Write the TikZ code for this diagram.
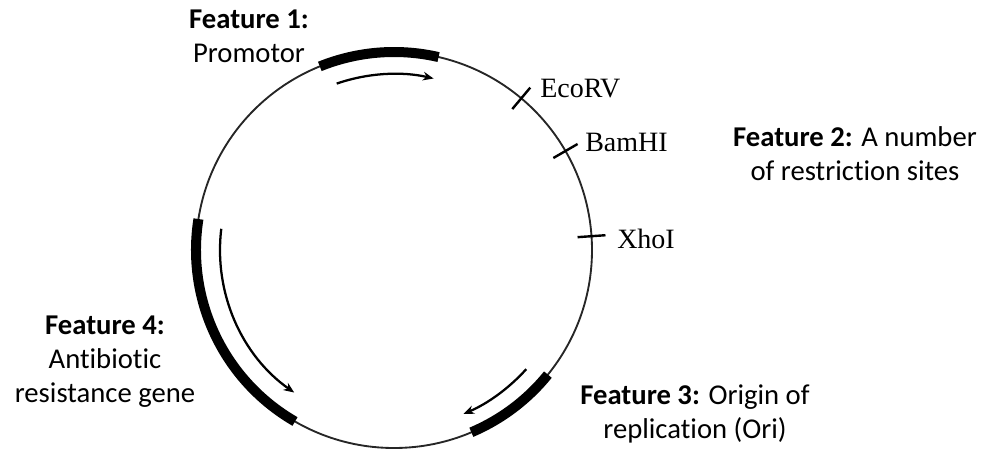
\documentclass[tikz,border=0pt]{standalone}
\usepackage{fontspec}
\setmainfont{Carlito}[Ligatures=NoCommon]
\newfontfamily\sitefont{Liberation Serif}
\usetikzlibrary{arrows.meta}

\begin{document}
\begin{tikzpicture}[
    x=0.75pt, y=0.75pt,
    backbone/.style={draw=black!85, line width=1.4pt},
    feature/.style={draw, line width=7.5pt},
    strand/.style={draw, line width=1.7pt, -{Stealth[length=8pt,width=6.5pt]}},
    site/.style={draw, line width=1.8pt},
    site label/.style={anchor=base west, inner sep=0pt, font=\sitefont\fontsize{21}{24}\selectfont},
    feature label/.style={anchor=base, align=center, inner sep=0pt, font=\fontsize{21.5}{25.5}\selectfont},
]
\useasboundingbox (-394,-205) rectangle (591,250);

% plasmid backbone
\coordinate (ori) at (0,0);
\draw[backbone] (ori) circle[radius=198];

% features on the plasmid
\draw[feature] (77:198) arc[start angle=77, end angle=112, radius=198];
\draw[feature] (171:198) arc[start angle=171, end angle=240, radius=198];
\draw[feature] (-39:198) arc[start angle=-39, end angle=-67, radius=198];

% reading direction
\draw[strand] (109:176) arc[start angle=109, end angle=77, radius=176];
\draw[strand] (173:174) arc[start angle=173, end angle=235, radius=174];
\draw[strand] (-42:178) arc[start angle=-42, end angle=-67, radius=178];

% restriction sites
\foreach \a in {50,30,4}
    \draw[site] (\a:184) -- (\a:212);

\node[site label] (ecorv) at (146,153) {EcoRV};
\node[site label] (bamhi) at (191,99) {BamHI};
\node[site label] (xhoi) at (223,2) {XhoI};

% labels (anchored at the last line)
\node[feature label] (f1) at (-145,188) {\textbf{Feature 1:}\\Promotor};
\node[feature label] (f2) at (461,70) {\textbf{Feature 2:} A number\\of restriction sites};
\node[feature label] (f3) at (301,-188) {\textbf{Feature 3:} Origin of\\replication (Ori)};
\node[feature label] (f4) at (-289,-152) {\textbf{Feature 4:}\\Antibiotic\\resistance gene};
\end{tikzpicture}
\end{document}
